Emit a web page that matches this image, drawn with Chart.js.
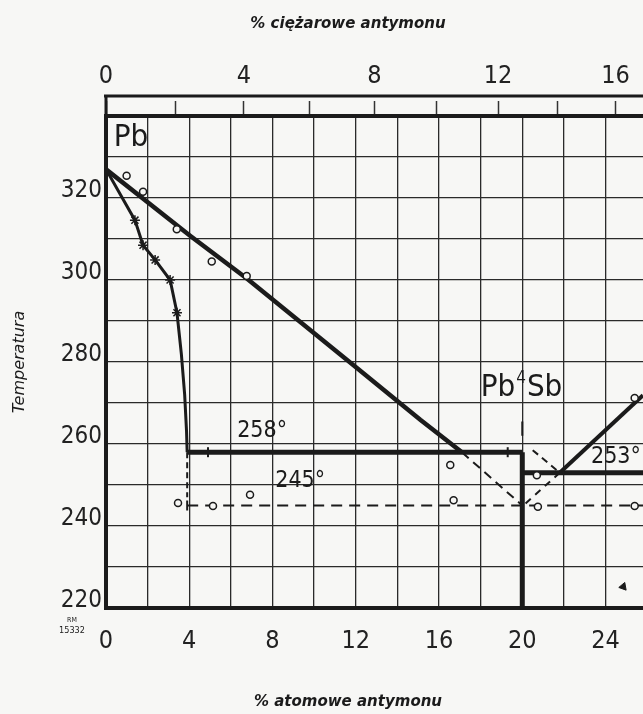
<!DOCTYPE html>
<html lang="pl">
<head>
<meta charset="utf-8">
<title>Układ ołów – antymon</title>
<script src="https://cdn.jsdelivr.net/npm/chart.js@4.4.1/dist/chart.umd.min.js"></script>
<style>
  html, body { margin: 0; padding: 0; background: #f7f7f5; }
  #wykres { display: block; }
</style>
</head>
<body>
<canvas id="wykres" width="643" height="714"></canvas>
<script>
// Skład w % atomowych Sb, temperatura w °C

// likwidus od strony ołowiu
const likwidusX = [0, 4.04, 6.78, 12.07, 15.1, 17.1];
const likwidusT = [327, 310.8, 300.3, 278.5, 265.9, 258];

// solidus roztworu stałego Sb w Pb
const solidusX = [0, 1.39, 1.78, 2.36, 3.08, 3.41, 3.62, 3.78, 3.87, 3.9];
const solidusT = [327, 314.6, 308.5, 304.9, 300, 292, 282, 272, 263, 258];

// likwidus po prawej stronie Pb4Sb
const likwidusSbX = [21.8, 25.8];
const likwidusSbT = [253, 271.9];

// temperatury przystanków
const tEutektyka = 258;
const tEutektyka2 = 253;
const tPrzemiana = 245;
const tDol = 220;

const xGranica = 3.9;   // graniczna rozpuszczalność Sb w Pb
const xZwiazek = 20;    // Pb4Sb
const xKoniec = 25.8;

// punkty pomiarowe - kółka
const kolkaX = [0.99, 1.78, 3.4, 5.08, 6.76, 3.46, 5.14, 6.92, 16.54, 16.7, 20.7, 20.75, 25.4, 25.4];
const kolkaT = [325.4, 321.5, 312.4, 304.5, 301, 245.6, 244.9, 247.6, 254.9, 246.3, 252.4, 244.7, 244.9, 271.2];

// punkty pomiarowe - gwiazdki na solidusie
const gwiazdkiX = [1.39, 1.78, 2.36, 3.08, 3.41];
const gwiazdkiT = [314.6, 308.5, 304.9, 300, 292];

// podziałki
const atomoweTicks = [0, 2, 4, 6, 8, 10, 12, 14, 16, 18, 20, 22, 24];
const ciezaroweTicks = [0, 2, 4, 6, 8, 10, 12, 14, 16];
const tempTicks = [220, 230, 240, 250, 260, 270, 280, 290, 300, 310, 320, 330, 340];

const kolor = '#1b1b1b';
const tlo = '#f7f7f5';
const czcionka = '"DejaVu Sans Condensed", "DejaVu Sans", sans-serif';

// % wagowe -> % atomowe (Sb 121.76, Pb 207.2)
function naAtomowe(w) {
    let sb = w / 121.76;
    let pb = (100 - w) / 207.2;
    return 100 * sb / (sb + pb);
}

function punkty(xs, ts) {
    return xs.map((v, i) => ({x: v, y: ts[i]}));
}

function linia(dane, grubosc, kreska) {
    return {
        data: dane,
        showLine: true,
        borderColor: kolor,
        borderWidth: grubosc,
        borderDash: kreska || [],
        pointRadius: 0,
        tension: 0,
        fill: false
    };
}

// osie poziome sięgają do samej krawędzi rysunku
function bezMarginesu(s) {
    s.paddingLeft = 0;
    s.paddingRight = 0;
}

// Napisy, listwa górnej skali i tytuły osi
const rysunek = {
    id: 'rysunek',
    beforeDraw(chart) {
        const ctx = chart.ctx;
        ctx.save();
        ctx.fillStyle = tlo;
        ctx.fillRect(0, 0, chart.width, chart.height);
        ctx.restore();
    },
    afterDraw(chart) {
        const {ctx, chartArea: ca, scales: {x, y}} = chart;
        ctx.save();
        ctx.strokeStyle = kolor;
        ctx.lineWidth = 3;
        ctx.beginPath();
        ctx.moveTo(ca.left - 2, ca.top - 20);
        ctx.lineTo(chart.width, ca.top - 20);
        ctx.moveTo(ca.left, ca.top - 21.5);
        ctx.lineTo(ca.left, ca.top);
        ctx.stroke();

        ctx.fillStyle = kolor;
        ctx.textAlign = 'center';
        ctx.textBaseline = 'middle';

        ctx.font = '31px ' + czcionka;
        ctx.fillText('Pb', x.getPixelForValue(1.2), y.getPixelForValue(334.6));

        ctx.font = '23px ' + czcionka;
        ctx.fillText('258°', x.getPixelForValue(7.5), y.getPixelForValue(263.2));
        ctx.fillText('245°', x.getPixelForValue(9.33), y.getPixelForValue(251));
        ctx.fillText('253°', x.getPixelForValue(24.5), y.getPixelForValue(256.8));

        // Pb4Sb z indeksem
        let px = x.getPixelForValue(18), py = y.getPixelForValue(273.7);
        ctx.textAlign = 'left';
        ctx.font = '31px ' + czcionka;
        ctx.fillText('Pb', px, py);
        let w1 = ctx.measureText('Pb').width;
        ctx.font = '17px ' + czcionka;
        ctx.fillText('4', px + w1 + 1, py - 9);
        let w2 = ctx.measureText('4').width;
        ctx.font = '31px ' + czcionka;
        ctx.fillText('Sb', px + w1 + w2 + 2, py);

        // tytuły osi
        ctx.textAlign = 'center';
        ctx.font = 'italic bold 15px "DejaVu Sans", sans-serif';
        ctx.fillText('% ciężarowe antymonu', 348, 24);
        ctx.fillText('% atomowe antymonu', 348, 702);
        ctx.save();
        ctx.translate(20, 362);
        ctx.rotate(-Math.PI / 2);
        ctx.font = 'italic 16px "DejaVu Sans", sans-serif';
        ctx.fillText('Temperatura', 0, 0);
        ctx.restore();

        ctx.font = '7px ' + czcionka;
        ctx.fillText('RM', 72, 620);
        ctx.font = '9px ' + czcionka;
        ctx.fillText('15332', 72, 631);
        ctx.restore();
    }
};

new Chart(document.getElementById('wykres'), {
    type: 'scatter',
    data: {
        datasets: [
            {
                data: punkty(kolkaX, kolkaT),
                pointStyle: 'circle',
                pointRadius: 3.5,
                pointBackgroundColor: tlo,
                pointBorderColor: kolor,
                pointBorderWidth: 1.5
            },
            {
                data: punkty(gwiazdkiX, gwiazdkiT),
                pointStyle: 'star',
                pointRadius: 5,
                pointBorderColor: kolor,
                pointBorderWidth: 1.5
            },
            // kreski na liniach przystanków
            {
                data: [{x: 4.9, y: tEutektyka}, {x: 19.3, y: tEutektyka}, {x: xGranica, y: tPrzemiana}],
                pointStyle: 'line',
                pointRotation: 90,
                pointRadius: 5,
                pointBorderColor: kolor,
                pointBorderWidth: 2
            },
            {
                data: [{x: 24.85, y: 225.2}],
                pointStyle: 'triangle',
                pointRotation: -100,
                pointRadius: 4.5,
                pointBackgroundColor: kolor,
                pointBorderColor: kolor
            },
            linia(punkty(likwidusX, likwidusT), 4.5),
            linia(punkty(solidusX, solidusT), 3),
            linia([{x: xGranica, y: tEutektyka}, {x: xZwiazek, y: tEutektyka}], 5),
            linia([{x: xZwiazek, y: tEutektyka}, {x: xZwiazek, y: tDol}], 5),
            linia([{x: xZwiazek, y: tEutektyka2}, {x: xKoniec, y: tEutektyka2}], 5),
            linia(punkty(likwidusSbX, likwidusSbT), 4),
            linia([{x: xZwiazek, y: 265.5}, {x: xZwiazek, y: 262}], 2),
            // linie przerywane
            linia([{x: xGranica, y: tPrzemiana}, {x: xKoniec, y: tPrzemiana}], 2, [11, 7]),
            linia([{x: xGranica, y: tEutektyka}, {x: xGranica, y: 247}], 2, [6, 4]),
            linia([{x: 17.1, y: tEutektyka}, {x: xZwiazek, y: tPrzemiana}], 2, [9, 6]),
            linia([{x: 20.5, y: 258.5}, {x: 21.8, y: tEutektyka2}], 2, [7, 5]),
            linia([{x: 21.8, y: tEutektyka2}, {x: 20.05, y: tPrzemiana}], 2, [7, 6])
        ]
    },
    options: {
        responsive: false,
        animation: false,
        layout: {padding: 0, autoPadding: false},
        plugins: {legend: {display: false}, tooltip: {enabled: false}},
        scales: {
            x: {
                type: 'linear',
                position: 'bottom',
                min: 0,
                max: xKoniec,
                afterBuildTicks: s => { s.ticks = atomoweTicks.map(v => ({value: v})); },
                afterFit: s => { s.height = 106; bezMarginesu(s); },
                grid: {color: '#2a2a2a', lineWidth: 1.3, drawTicks: false},
                border: {display: true, color: kolor, width: 4},
                ticks: {
                    padding: 18,
                    color: '#222',
                    font: {family: czcionka, size: 25},
                    callback: v => v % 4 === 0 ? v : ''
                }
            },
            x2: {
                type: 'linear',
                position: 'top',
                min: 0,
                max: xKoniec,
                afterBuildTicks: s => { s.ticks = ciezaroweTicks.map(w => ({value: naAtomowe(w)})); },
                afterFit: s => { s.height = 116; bezMarginesu(s); },
                grid: {drawOnChartArea: false, drawTicks: true, tickLength: 15, tickColor: '#333', tickWidth: 1.5},
                border: {display: true, color: kolor, width: 4},
                ticks: {
                    padding: 10,
                    color: '#222',
                    font: {family: czcionka, size: 25},
                    callback: (v, i) => ciezaroweTicks[i] % 4 === 0 ? ciezaroweTicks[i] : ''
                }
            },
            y: {
                type: 'linear',
                min: tDol,
                max: 340,
                afterBuildTicks: s => { s.ticks = tempTicks.map(v => ({value: v})); },
                afterFit: s => { s.width = 106; s.paddingTop = 0; s.paddingBottom = 0; },
                grid: {color: '#2a2a2a', lineWidth: 1.3, drawTicks: false},
                border: {display: true, color: kolor, width: 4},
                ticks: {
                    padding: 4,
                    labelOffset: -7,
                    color: '#222',
                    font: {family: czcionka, size: 24},
                    callback: v => (v % 20 === 0 && v < 340) ? v : ''
                }
            }
        }
    },
    plugins: [rysunek]
});
</script>
</body>
</html>
